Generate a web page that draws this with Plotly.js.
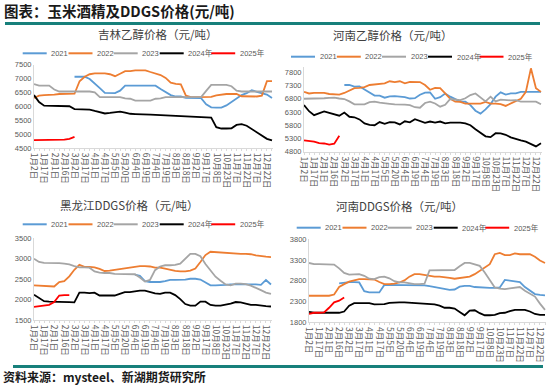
<!DOCTYPE html>
<html>
<head>
<meta charset="utf-8">
<script src="https://cdn.plot.ly/plotly-3.0.1.min.js"></script>
<style>html,body{margin:0;padding:0;background:#fff;}#chart{width:550px;height:385px;}</style>
</head>
<body>
<div id="chart"></div>
<script>
// ---------- categories ----------
const dates = ['1月2日','1月9日','1月17日','1月24日','2月1日','2月8日','2月16日','2月23日','3月2日','3月9日','3月17日','3月24日','4月1日','4月9日','4月17日','4月26日','5月5日','5月12日','5月20日','5月27日','6月4日','6月11日','6月19日','6月26日','7月4日','7月11日','7月19日','7月26日','8月3日','8月10日','8月18日','8月25日','9月2日','9月9日','9月17日','9月26日','10月8日','10月15日','10月23日','10月30日','11月7日','11月14日','11月22日','11月29日','12月7日','12月14日','12月22日','12月29日'];
const tickLabels = ['1月2日','1月17日','2月1日','2月16日','3月2日','3月17日','4月1日','4月17日','5月5日','5月20日','6月4日','6月19日','7月4日','7月19日','8月3日','8月18日','9月2日','9月17日','10月8日','10月23日','11月7日','11月22日','12月7日','12月22日'];
const seriesNames = ['2021','2022','2023','2024年','2025年'];
const seriesColors = ['#5B9BD5','#ED7D31','#A5A5A5','#000000','#FF0000'];
const panelTitles = ['吉林乙醇价格（元/吨）','河南乙醇价格（元/吨）','黑龙江DDGS价格（元/吨）','河南DDGS价格（元/吨）'];

// ---------- 吉林乙醇 ----------
const jl2021 = [null,null,null,null,null,null,null,null,7060,7060,7060,6980,6800,6650,6480,6470,6470,6560,6740,6740,6740,6740,6740,6740,6740,6620,6520,6400,6350,6350,6300,6290,6290,6290,6070,5960,5950,5950,6030,6150,6290,6400,6470,6580,6520,6470,6420,6300];
const jl2022 = [6300,6380,6400,6400,6420,6440,6440,6440,6450,6900,7060,7150,7180,7180,7180,7150,7080,7170,7260,7260,7290,7290,7290,7230,7170,7120,7020,6850,6800,6790,6380,6330,6330,6330,6330,6340,6390,6420,6440,6440,6440,6360,6350,6350,6350,6380,6900,6900];
const jl2023 = [6800,6740,6740,6740,6600,6530,6530,6530,6530,6530,6530,6530,6500,6330,6330,6330,6330,6330,6280,6270,6200,6200,6200,6200,6270,6280,6330,6330,6330,6330,6330,6330,6330,6330,6550,6770,6770,6770,6770,6720,6560,6530,6530,6530,6530,6530,6530,6530];
const jl2024 = [6400,6150,6020,6020,6010,6010,6010,6000,5900,5890,5880,5880,5830,5780,5740,5760,5790,5810,5770,5730,5720,5720,5700,5700,5690,5680,5670,5660,5660,5650,5640,5620,5610,5600,5600,5590,5250,5200,5200,5210,5330,5360,5300,5180,5050,4950,4830,4770];
const jl2025 = [4780,4780,4780,4780,4780,4790,4800,4830,4900];

// ---------- 河南乙醇 ----------
const hn2021 = [null,null,null,null,null,null,null,null,7320,7320,7260,7270,7150,7020,6920,6920,6840,6890,6900,6880,6860,6810,6820,6950,7030,7040,6800,6860,7000,6880,6780,6690,6690,6560,6350,6240,6400,6600,6880,7040,6960,7000,7000,7060,7060,7060,7060,7060];
const hn2022 = [7060,7000,7020,7020,7020,6980,6960,6960,7020,7110,7200,7210,7240,7320,7340,7350,7380,7460,7430,7460,7380,7440,7440,7430,7320,7140,7210,7200,7000,6800,6690,6680,6620,6620,6620,6620,6680,6620,6620,6600,6530,6620,6680,6800,7060,7950,7200,7060];
const hn2023 = [6800,6800,6810,6820,6820,6830,6840,6810,6790,6700,6590,6590,6590,6670,6690,6650,6620,6610,6590,6590,6580,6560,6480,6460,6640,6690,6620,6500,6570,6790,6760,6750,6820,6940,7000,6860,6700,6880,6700,6770,6750,6740,6750,6690,6690,6690,6690,6590];
const hn2024 = [6560,6330,6180,6250,6320,6270,6200,6160,6280,6120,6100,6020,5870,5810,5800,5920,5850,5920,5910,5830,5950,5910,6030,5970,5890,5940,5900,5940,5870,5900,5910,5900,5870,5800,5650,5530,5380,5350,5500,5490,5440,5340,5270,5230,5180,5080,5000,5120];
const hn2025 = [5230,5200,5180,5120,5110,5070,5100,5400];

// ---------- 黑龙江DDGS ----------
const hl2021 = [null,null,null,null,null,null,null,null,null,null,null,null,null,null,null,null,null,null,null,null,2610,2580,2450,2430,2430,2430,2450,2480,2480,2480,2490,2510,2510,2490,2420,2350,2350,2350,2360,2370,2370,2380,2380,2370,2370,2360,2480,2370];
const hl2022 = [2350,2340,2340,2330,2320,2430,2450,2570,2730,2850,2800,2800,2790,2750,2700,2710,2730,2750,2760,2790,2800,2820,2820,2810,2780,2780,2760,2730,2700,2690,2690,2710,2760,2920,3090,3170,3160,3160,3150,3140,3130,3120,3120,3110,3080,3060,3050,3040];
const hl2023 = [3000,2920,2900,2900,2900,2890,2880,2860,2820,2790,2790,2780,2690,2660,2650,2650,2630,2630,2630,2630,2620,2540,2440,2480,2720,2810,2840,2840,2850,2880,3000,3120,3120,3060,2870,2720,2560,2460,2370,2350,2390,2390,2380,2340,2290,2230,2170,2140];
const hl2024 = [2120,2040,1960,1950,1950,1950,1950,1940,1930,2170,2170,2160,2170,2100,2100,2100,2100,2140,2180,2180,2200,2220,2220,2180,2150,2140,2170,2170,2110,2010,1890,1850,1850,1950,1950,1870,1850,1850,1870,1900,1940,1930,1900,1870,1870,1850,1840,1830];
const hl2025 = [1820,1840,1850,1870,1940,2100,2110,2110];

// ---------- 河南DDGS ----------
const hd2021 = [null,null,null,null,null,null,2740,2760,2770,2770,2760,2550,2520,2520,2520,2700,2700,2700,2700,2700,2700,2700,2700,2690,2670,2650,2630,2600,2580,2590,2660,2680,2680,2650,2640,2630,2630,2630,2640,2820,2800,2790,2770,2650,2560,2480,2460,2450];
const hd2022 = [2440,2440,2440,2440,2440,2470,2650,2720,2780,2810,2840,2840,2840,2830,2770,2720,2720,2730,2760,2810,2900,2960,2960,2940,2920,2900,2900,2890,2870,2850,2870,2880,2900,2960,3040,3130,3200,3440,3470,3420,3420,3460,3440,3440,3440,3380,3290,3230];
const hd2023 = [3230,3200,3200,3200,3200,3190,3100,2990,2950,2950,2960,2920,2850,2840,2890,2900,2860,2790,2760,2760,2740,2720,2720,2730,3050,3050,3050,3050,3050,3060,3150,3230,3230,3200,3160,3000,2820,2640,2610,2600,2620,2640,2650,2560,2500,2420,2250,2100];
const hd2024 = [2050,2030,2030,2030,2030,2030,2030,2060,2200,2260,2260,2260,2260,2230,2230,2240,2270,2280,2280,2280,2270,2260,2260,2250,2240,2230,2200,2150,2150,2130,2050,1970,2080,2090,2020,1970,1970,1980,2020,2030,2070,2100,2100,2100,2060,2000,1980,1980];
const hd2025 = [2000,2030,2030,2040,2150,2280,2320,2400];

// ---------- layout helpers ----------
const W = 550, H = 385;
const px = x => x / W;
const py = y => 1 - y / H;
const FONT = "'Liberation Sans', 'Noto Sans CJK SC', sans-serif";
const CJK = "'Noto Sans CJK SC', sans-serif";

const panels = [
  {series:[jl2021,jl2022,jl2023,jl2024,jl2025], yr:[4500,7500], box:[34,273,64.5,148],   tx:158, ty:34,  lx:22.7, ly:53.3},
  {series:[hn2021,hn2022,hn2023,hn2024,hn2025], yr:[4800,8000], box:[304,542,67,151.7],  tx:393, ty:35,  lx:291,  ly:56.7},
  {series:[hl2021,hl2022,hl2023,hl2024,hl2025], yr:[1500,3500], box:[34,272,238.3,320],  tx:129, ty:205, lx:22.7, ly:224.3},
  {series:[hd2021,hd2022,hd2023,hd2024,hd2025], yr:[1800,3800], box:[309,546,239.3,322.3],tx:399, ty:206, lx:296.7,ly:227.7}
];
const legendOffsets = [0, 45.8, 91, 137, 188.5];

const ticktext = dates.map(d => tickLabels.includes(d) ? d : '');

const traces = [];
const layout = {
  width: W, height: H,
  margin: {l:0, r:0, t:0, b:0},
  paper_bgcolor: '#fff', plot_bgcolor: '#fff',
  showlegend: false, hovermode: false,
  font: {family: FONT, color: '#595959'},
  shapes: [], annotations: []
};

panels.forEach((p, i) => {
  const n = i === 0 ? '' : String(i + 1);
  const [x0, x1, yt, yb] = p.box;
  layout['xaxis' + n] = {
    type: 'category', domain: [px(x0), px(x1)], anchor: 'y' + n,
    range: [0, 47.2], tickmode: 'array', tickvals: dates, ticktext: ticktext,
    tickangle: 90, tickfont: {family: CJK, size: 8.5, color: '#595959'},
    ticks: 'outside', ticklen: 2, tickcolor: '#d9d9d9',
    showline: true, linecolor: '#d9d9d9', linewidth: 1,
    showgrid: false, zeroline: false, fixedrange: true
  };
  layout['yaxis' + n] = {
    domain: [py(yb), py(yt)], anchor: 'x' + n,
    range: p.yr, tick0: p.yr[0], dtick: 500,
    tickfont: {family: FONT, size: 7.5, color: '#595959'},
    ticks: '', showline: true, linecolor: '#d9d9d9', linewidth: 1,
    showgrid: false, zeroline: false, fixedrange: true
  };
  p.series.forEach((arr, k) => {
    traces.push({
      type: 'scatter', mode: 'lines', x: dates, y: arr,
      xaxis: 'x' + n, yaxis: 'y' + n, name: seriesNames[k],
      line: {color: seriesColors[k], width: 1.8}, connectgaps: false,
      showlegend: false, hoverinfo: 'skip'
    });
    const lxs = p.lx + legendOffsets[k];
    layout.shapes.push({type:'line', xref:'paper', yref:'paper',
      x0: px(lxs), x1: px(lxs + 24), y0: py(p.ly), y1: py(p.ly),
      line: {color: seriesColors[k], width: 2}});
    layout.annotations.push({xref:'paper', yref:'paper', x: px(lxs + 26.5), y: py(p.ly),
      xanchor:'left', yanchor:'middle', text: seriesNames[k], showarrow:false,
      font: {family: FONT, size: 7.5, color: '#595959'}});
  });
  layout.annotations.push({xref:'paper', yref:'paper', x: px(p.tx), y: py(p.ty),
    xanchor:'center', yanchor:'middle', text: panelTitles[i], showarrow:false,
    font: {family: CJK, size: 11.5, color: '#404040'}});
});

// header & footer
layout.annotations.push({xref:'paper', yref:'paper', x: px(2), y: py(10.5), xanchor:'left', yanchor:'middle',
  text:'<b>图表：玉米酒精及DDGS价格(元/吨)</b>', showarrow:false,
  font:{family: CJK, size: 14.5, color:'#1a1a1a'}});
layout.shapes.push({type:'line', xref:'paper', yref:'paper', x0: px(5), x1: px(540), y0: py(23.5), y1: py(23.5),
  line:{color:'#17807b', width:3}});
layout.shapes.push({type:'line', xref:'paper', yref:'paper', x0: px(13), x1: px(543), y0: py(366.5), y1: py(366.5),
  line:{color:'#17807b', width:3}});
layout.annotations.push({xref:'paper', yref:'paper', x: px(2), y: py(376), xanchor:'left', yanchor:'middle',
  text:'<b>资料来源：mysteel、新湖期货研究所</b>', showarrow:false, borderpad: 0,
  font:{family: CJK, size: 12, color:'#1a1a1a'}});

Plotly.newPlot('chart', traces, layout, {displayModeBar:false, staticPlot:true});
</script>
</body>
</html>
